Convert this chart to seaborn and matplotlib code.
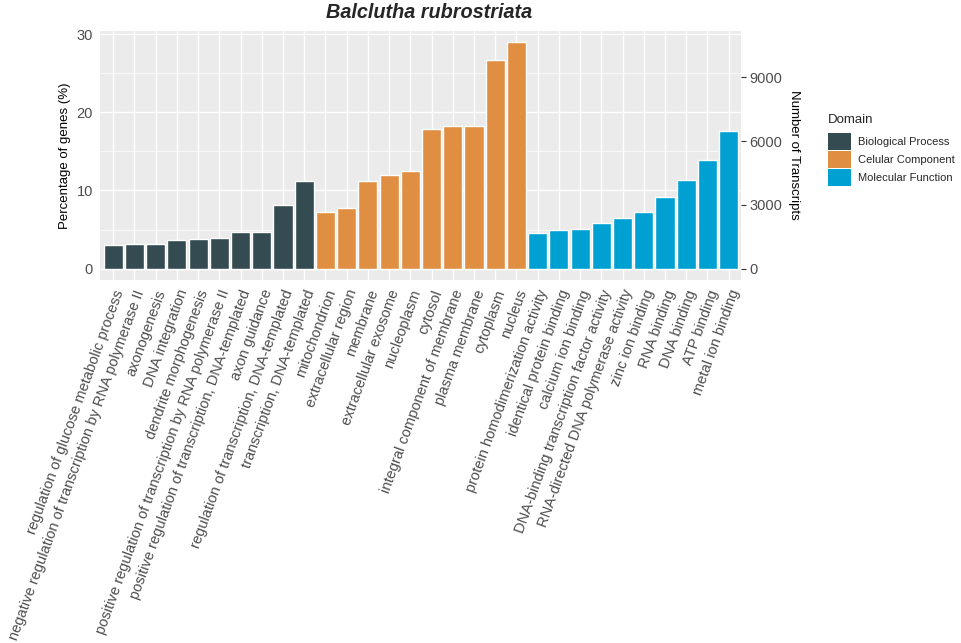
import matplotlib
matplotlib.use("Agg")
import matplotlib.pyplot as plt
import seaborn as sns
import pandas as pd
from matplotlib.patches import Patch
from matplotlib.ticker import MultipleLocator

# GO terms, grouped by domain
bp_terms = [
    "regulation of glucose metabolic process",
    "negative regulation of transcription by RNA polymerase II",
    "axonogenesis",
    "DNA integration",
    "dendrite morphogenesis",
    "positive regulation of transcription by RNA polymerase II",
    "positive regulation of transcription, DNA-templated",
    "axon guidance",
    "regulation of transcription, DNA-templated",
    "transcription, DNA-templated",
]
bp_pct = [3.05, 3.13, 3.22, 3.73, 3.82, 3.95, 4.68, 4.68, 8.2, 11.2]

cc_terms = [
    "mitochondrion",
    "extracellular region",
    "membrane",
    "extracellular exosome",
    "nucleoplasm",
    "cytosol",
    "integral component of membrane",
    "plasma membrane",
    "cytoplasm",
    "nucleus",
]
cc_pct = [7.25, 7.77, 11.16, 11.97, 12.49, 17.8, 18.28, 18.28, 26.7, 29.0]

mf_terms = [
    "protein homodimerization activity",
    "identical protein binding",
    "calcium ion binding",
    "DNA-binding transcription factor activity",
    "RNA-directed DNA polymerase activity",
    "zinc ion binding",
    "RNA binding",
    "DNA binding",
    "ATP binding",
    "metal ion binding",
]
mf_pct = [4.5, 4.89, 5.1, 5.79, 6.44, 7.3, 9.23, 11.4, 13.9, 17.64]

domains = ["Biological Process", "Celular Component", "Molecular Function"]
domain_colors = ["#344B52", "#E08E42", "#00A0D3"]

# transcripts per percentage point (secondary axis scale)
transcripts_per_pct = 368.0

df = pd.DataFrame({
    "term": bp_terms + cc_terms + mf_terms,
    "pct": bp_pct + cc_pct + mf_pct,
    "domain": [domains[0]] * len(bp_terms)
    + [domains[1]] * len(cc_terms)
    + [domains[2]] * len(mf_terms),
})

sns.set_theme(style="darkgrid", rc={
    "axes.facecolor": "#EBEBEB",
    "grid.color": "white",
    "grid.linewidth": 1.0,
    "axes.edgecolor": "#EBEBEB",
})
plt.rcParams["font.family"] = ["Liberation Sans", "DejaVu Sans"]

fig = plt.figure(figsize=(9.61, 6.43), dpi=100)
ax = fig.add_axes([0.1045, 0.5645, 0.667, 0.388])

sns.barplot(data=df, x="term", y="pct", hue="domain", hue_order=domains,
            palette=domain_colors, dodge=False, width=0.9, ax=ax,
            legend=False, saturation=1)

ax.set_xlim(-0.6, len(df) - 0.4)
ax.set_ylim(-1.45, 30.45)
ax.yaxis.set_major_locator(MultipleLocator(10))
ax.yaxis.set_minor_locator(MultipleLocator(5))
ax.grid(which="minor", axis="y", color="white", linewidth=0.5)
ax.grid(which="major", axis="both", color="white", linewidth=1.0)
ax.set_axisbelow(True)
for s in ax.spines.values():
    s.set_visible(False)

ax.tick_params(axis="both", which="major", length=3.5, width=0.8,
               color="#333333", labelcolor="#4D4D4D", labelsize=10.5, pad=2)
ax.tick_params(axis="y", which="minor", length=0)
ax.tick_params(axis="x", labelsize=10.5)
plt.setp(ax.get_xticklabels(), rotation=70, ha="right", rotation_mode="anchor")

ax.set_xlabel("")
ax.set_ylabel("Percentage of genes (%)", fontsize=9.5, color="black", labelpad=4)

sec = ax.secondary_yaxis("right", functions=(lambda v: v * transcripts_per_pct,
                                             lambda v: v / transcripts_per_pct))
sec.set_yticks([0, 3000, 6000, 9000])
sec.tick_params(axis="y", length=3.5, width=0.8, color="#333333",
                labelcolor="#4D4D4D", labelsize=10.5, pad=2)
for s in sec.spines.values():
    s.set_visible(False)
sec.set_ylabel("Number of Transcripts", rotation=-90, fontsize=9.5,
               color="black", labelpad=13)

ax.set_title("Balclutha rubrostriata", fontsize=14.3, fontweight="bold",
             fontstyle="italic", pad=9, x=0.513)

handles = [Patch(facecolor=c, edgecolor="none") for c in domain_colors]
leg = fig.legend(handles, domains, title="Domain", loc="upper left",
                 bbox_to_anchor=(0.857, 0.83), frameon=False, fontsize=8,
                 title_fontsize=9.5, handlelength=2.05, handleheight=2.0,
                 handletextpad=0.65, labelspacing=0.08, borderaxespad=0)
leg._legend_box.align = "left"
leg._legend_box.sep = 5

fig.savefig("out.png", dpi=100)
